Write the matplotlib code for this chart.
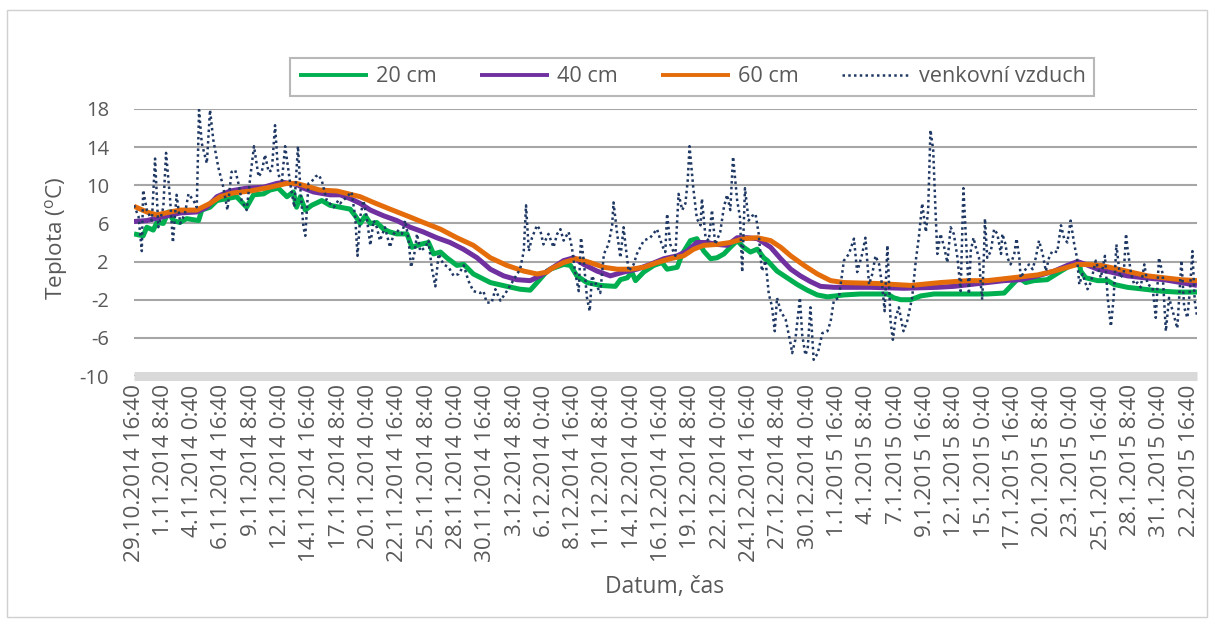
import matplotlib
matplotlib.use("Agg")
from matplotlib import pyplot as plt
from matplotlib.patches import Rectangle

plt.rcParams['font.family'] = ['Open Sans', 'DejaVu Sans']
plt.rcParams['axes.unicode_minus'] = False

# time axis: hours since 29.10.2014 16:40
labels = ["29.10.2014 16:40", "1.11.2014 8:40", "4.11.2014 0:40", "6.11.2014 16:40",
          "9.11.2014 8:40", "12.11.2014 0:40", "14.11.2014 16:40", "17.11.2014 8:40",
          "20.11.2014 0:40", "22.11.2014 16:40", "25.11.2014 8:40", "28.11.2014 0:40",
          "30.11.2014 16:40", "3.12.2014 8:40", "6.12.2014 0:40", "8.12.2014 16:40",
          "11.12.2014 8:40", "14.12.2014 0:40", "16.12.2014 16:40", "19.12.2014 8:40",
          "22.12.2014 0:40", "24.12.2014 16:40", "27.12.2014 8:40", "30.12.2014 0:40",
          "1.1.2015 16:40", "4.1.2015 8:40", "7.1.2015 0:40", "9.1.2015 16:40",
          "12.1.2015 8:40", "15.1.2015 0:40", "17.1.2015 16:40", "20.1.2015 8:40",
          "23.1.2015 0:40", "25.1.2015 16:40", "28.1.2015 8:40", "31.1.2015 0:40",
          "2.2.2015 16:40"]
label_hours = [0, 64, 128, 192, 256, 320, 384, 448, 512, 576, 640, 704, 768, 832,
               896, 960, 1024, 1088, 1152, 1216, 1280, 1344, 1408, 1472, 1536, 1600,
               1664, 1728, 1792, 1856, 1920, 1984, 2048, 2112, 2176, 2240, 2304]

h20 = [0, 20, 28, 42, 50, 64, 75, 86, 100, 115, 141, 148, 166, 181, 203, 224, 246,
       261, 283, 297, 315, 334, 348, 355, 363, 374, 388, 410, 428, 450, 472, 483,
       494, 505, 516, 530, 545, 559, 574, 596, 607, 625, 643, 654, 669, 683, 705,
       720, 741, 778, 814, 843, 865, 880, 902, 909, 938, 953, 967, 989, 1018, 1051,
       1062, 1077, 1087, 1095, 1113, 1135, 1153, 1164, 1186, 1197, 1215, 1229, 1244,
       1259, 1273, 1288, 1302, 1317, 1331, 1346, 1361, 1375, 1383, 1404, 1426, 1448,
       1470, 1492, 1514, 1550, 1586, 1623, 1645, 1659, 1674, 1696, 1718, 1747, 1776,
       1805, 1827, 1863, 1900, 1914, 1932, 1947, 1965, 1994, 2024, 2045, 2064, 2067,
       2078, 2104, 2126, 2140, 2169, 2206, 2242, 2278, 2321]
t20 = [4.9, 4.7, 5.6, 5.3, 6.1, 6.0, 7.2, 6.3, 6.1, 6.5, 6.3, 7.4, 7.7, 8.4, 8.6, 8.8, 7.7,
       9.0, 9.1, 9.5, 9.7, 8.8, 9.3, 7.7, 8.8, 7.4, 7.9, 8.4, 7.9, 7.7, 7.5, 6.8,
       6.0, 6.8, 6.0, 6.1, 5.4, 5.1, 4.9, 4.9, 3.5, 3.8, 4.0, 2.8, 3.0, 2.4, 1.6,
       1.7, 0.7, -0.2, -0.6, -0.9, -1.0, -0.2, 1.0, 1.2, 1.7, 1.6, 0.5, -0.2, -0.5, -0.6,
       0.1, 0.3, 0.9, 0.0, 0.9, 1.6, 1.9, 1.2, 1.4, 2.8, 4.2, 4.4, 3.1,
       2.3, 2.4, 2.8, 3.5, 4.2, 3.5, 3.0, 3.3, 2.4, 2.1, 1.0, 0.3, -0.4,
       -1.0, -1.5, -1.7, -1.5, -1.4, -1.4, -1.4, -1.8, -2.0, -2.0, -1.6, -1.4, -1.4,
       -1.4, -1.4, -1.4, -1.3, -0.6, 0.3, -0.2, 0.0, 0.1, 1.0, 1.6, 1.9, 1.0,
       0.3, 0.0, 0.0, -0.4, -0.7, -0.9, -1.1, -1.2, -1.2]

h40 = [0, 28, 64, 101, 137, 159, 181, 210, 246, 283, 312, 326, 355, 370, 392, 428,
       450, 472, 494, 516, 545, 574, 603, 632, 661, 690, 719, 749, 778, 807, 836,
       865, 887, 909, 938, 960, 982, 1011, 1040, 1069, 1098, 1127, 1157, 1186, 1208,
       1229, 1251, 1273, 1295, 1317, 1339, 1361, 1368, 1390, 1412, 1434, 1455, 1477,
       1499, 1528, 1608, 1681, 1754, 1790, 1827, 1863, 1900, 1936, 1973, 2009, 2038,
       2060, 2078, 2104, 2133, 2169, 2206, 2249, 2286, 2321]
t40 = [6.2, 6.3, 6.7, 7.1, 7.2, 7.7, 8.8, 9.4, 9.7, 9.8, 10.2, 10.3, 10.1, 9.7, 9.3, 9.0,
       9.0, 8.6, 8.1, 7.4, 6.8, 6.3, 5.6, 5.1, 4.5, 4.0, 3.3, 2.4, 1.2, 0.5, 0.1,
       0.0, 0.5, 1.2, 2.1, 2.4, 1.7, 1.0, 0.5, 0.9, 1.2, 1.7, 2.3, 2.6, 3.1,
       4.0, 4.0, 3.8, 3.7, 4.5, 4.5, 4.4, 4.2, 3.5, 2.3, 1.2, 0.5, -0.1,
       -0.6, -0.7, -0.7, -0.8, -0.7, -0.6, -0.4, -0.2, 0.0, 0.1, 0.5, 1.0, 1.6,
       2.0, 1.7, 1.2, 0.9, 0.5, 0.3, 0.1, -0.2, -0.5]

h60 = [0, 28, 50, 79, 101, 137, 166, 188, 217, 254, 297, 334, 355, 377, 406, 443,
       494, 523, 559, 596, 632, 669, 705, 741, 778, 814, 851, 880, 902, 909, 938,
       967, 996, 1026, 1055, 1084, 1113, 1142, 1171, 1200, 1222, 1244, 1273, 1302,
       1331, 1361, 1390, 1412, 1434, 1463, 1492, 1521, 1550, 1623, 1696, 1761, 1820,
       1863, 1900, 1936, 1973, 2009, 2038, 2060, 2082, 2111, 2140, 2176, 2213, 2249,
       2286, 2321]
t60 = [7.8, 7.2, 6.9, 7.2, 7.4, 7.4, 8.1, 8.8, 9.2, 9.4, 9.8, 10.2, 10.2, 9.9, 9.5, 9.4,
       8.8, 8.2, 7.5, 6.8, 6.1, 5.4, 4.5, 3.7, 2.4, 1.6, 1.0, 0.7, 0.9, 1.2, 1.9,
       2.3, 1.9, 1.4, 1.2, 1.2, 1.4, 1.9, 2.3, 2.6, 3.3, 3.7, 3.8, 4.0,
       4.4, 4.5, 4.2, 3.5, 2.6, 1.6, 0.7, 0.0, -0.2, -0.3, -0.5, -0.2, 0.0,
       0.0, 0.2, 0.4, 0.6, 1.0, 1.4, 1.7, 1.7, 1.6, 1.3, 0.9, 0.5, 0.3,
       0.1, 0.0]

h_air = [0, 10, 17, 20, 28, 39, 46, 53, 64, 70, 79, 85, 93, 101, 111, 119, 130, 137,
         142, 148, 159, 166, 173, 184, 195, 204, 213, 221, 228, 235, 246, 254, 262,
         272, 279, 286, 294, 301, 308, 315, 323, 330, 341, 350, 358, 363, 370, 374,
         381, 388, 396, 403, 410, 421, 436, 446, 450, 465, 475, 483, 488, 494, 501,
         508, 516, 523, 530, 537, 548, 559, 567, 574, 585, 592, 599, 605, 612, 618,
         625, 636, 643, 650, 658, 665, 676, 687, 698, 709, 720, 730, 741, 756, 763,
         770, 781, 789, 800, 814, 829, 843, 851, 856, 862, 869, 880, 887, 894, 905,
         916, 924, 931, 938, 949, 956, 964, 971, 976, 982, 989, 995, 1000, 1011, 1018,
         1026, 1036, 1044, 1047, 1055, 1062, 1069, 1073, 1080, 1091, 1098, 1113, 1127,
         1142, 1153, 1160, 1164, 1171, 1182, 1189, 1197, 1204, 1209, 1213, 1221, 1229,
         1237, 1240, 1248, 1255, 1262, 1269, 1280, 1288, 1295, 1302, 1308, 1317, 1323,
         1328, 1334, 1342, 1350, 1357, 1364, 1371, 1379, 1386, 1393, 1399, 1404, 1412,
         1423, 1434, 1437, 1444, 1454, 1459, 1466, 1471, 1477, 1484, 1493, 1503, 1514,
         1521, 1528, 1539, 1550, 1561, 1572, 1579, 1590, 1597, 1605, 1612, 1619, 1627,
         1634, 1639, 1645, 1652, 1657, 1663, 1670, 1680, 1688, 1699, 1707, 1714, 1721,
         1729, 1734, 1739, 1745, 1750, 1754, 1761, 1769, 1776, 1783, 1790, 1798, 1805,
         1811, 1816, 1823, 1827, 1833, 1838, 1845, 1849, 1852, 1856, 1858, 1863, 1871,
         1878, 1885, 1893, 1896, 1903, 1907, 1914, 1922, 1927, 1933, 1936, 1944, 1954,
         1962, 1969, 1976, 1984, 1991, 1998, 2005, 2016, 2024, 2031, 2038, 2045, 2053,
         2059, 2064, 2071, 2082, 2089, 2100, 2111, 2120, 2126, 2133, 2139, 2145, 2153,
         2161, 2166, 2169, 2177, 2184, 2191, 2198, 2206, 2213, 2224, 2231, 2238, 2246,
         2253, 2260, 2268, 2278, 2287, 2293, 2300, 2306, 2311, 2316, 2321]
t_air = [7.9, 6.7, 3.1, 9.5, 7.4, 6.3, 12.8, 5.6, 7.7, 13.4, 8.4, 4.0, 9.0, 6.0, 7.0, 9.1,
         8.4, 7.7, 17.9, 14.4, 12.3, 17.9, 14.8, 11.9, 9.8, 7.4, 11.4, 11.6, 10.2, 8.4,
         7.4, 10.9, 14.1, 10.9, 11.4, 13.2, 11.4, 11.6, 16.3, 11.1, 10.5, 14.1, 10.2,
         7.7, 14.1, 9.8, 5.6, 4.7, 10.2, 10.4, 10.9, 11.1, 10.5, 8.4, 7.7, 8.4, 8.1,
         8.8, 9.3, 6.7, 2.6, 6.7, 8.4, 6.7, 3.7, 6.3, 5.6, 4.2, 5.6, 3.5, 4.9, 5.3,
         4.9, 6.3, 4.5, 1.4, 2.8, 4.9, 3.1, 3.5, 4.2, 1.4, -0.6, 2.8, 1.7, 1.4, 0.5,
         0.7, 1.6, 0.0, -1.1, -1.3, -1.1, -2.3, -2.3, -0.9, -2.1, -1.1, 0.1, 1.2, 3.1,
         7.9, 3.1, 4.5, 5.8, 5.3, 3.8, 4.9, 3.5, 4.9, 5.4, 4.2, 5.1, 3.5, 0.7, -1.1,
         4.5, 2.1, -1.8, -3.2, 0.5, -0.6, -1.3, 2.8, 3.8, 5.8, 8.2, 4.9, 2.4, 5.6, 3.8,
         1.0, 1.7, 2.8, 4.2, 4.5, 5.4, 3.7, 3.0, 7.0, 3.8, 2.6, 9.1, 7.4, 8.1, 10.5,
         14.1, 9.8, 6.5, 5.8, 8.6, 4.5, 4.2, 7.4, 3.8, 5.1, 7.7, 9.0, 7.4, 13.0, 8.4,
         6.7, 0.9, 9.7, 6.3, 6.8, 7.0, 4.9, 1.0, 2.1, -1.4, -2.7, -5.3, -1.8, -3.2,
         -4.1, -6.7, -7.6, -6.2, -1.8, -5.7, -7.8, -7.1, -2.8, -8.3, -7.6, -5.5, -5.3,
         -4.3, -2.1, -1.8, 2.1, 2.8, 4.4, 0.9, 2.8, 4.5, -0.4, 0.7, 2.6, 1.7, -0.7,
         -3.2, 3.7, -4.3, -6.2, -3.9, -2.8, -5.3, -4.3, -1.8, 2.1, 4.7, 8.1, 5.1, 7.4,
         15.8, 13.7, 7.4, 2.8, 4.9, 3.5, 1.9, 5.6, 4.9, 2.4, -1.1, 9.7, 4.9, -1.4, 3.1,
         4.5, 3.5, 2.4, -0.4, -2.0, 3.1, 6.5, 2.4, 3.1, 5.4, 4.9, 2.8, 4.9, 3.8, 2.4,
         1.7, 2.8, 4.4, 2.4, 0.3, 1.0, 1.7, 1.2, 2.4, 4.2, 2.8, 1.0, 2.4, 3.1, 3.0,
         5.8, 4.4, 4.0, 6.3, 3.8, 2.4, -0.4, 0.7, -0.9, -0.2, 2.1, 0.3, 2.6, -1.8,
         -4.8, -1.8, 3.8, 0.3, 0.7, 4.9, 3.5, 0.7, -0.4, -0.2, -0.7, 1.7, -0.4, -0.7,
         -3.9, 2.4, 0.7, -5.3, -1.8, -3.2, -5.0, 2.1, -2.8, -3.9, -0.7, 3.1, -2.1, -3.7]

yticks = [-10, -6, -2, 2, 6, 10, 14, 18]

grey = '#595959'
fig = plt.figure(figsize=(12.15, 6.25), dpi=100)
fig.patches.append(Rectangle((7 / 1215, 1 - 617 / 625), 1200 / 1215, 607 / 625,
                             transform=fig.transFigure, fill=False,
                             edgecolor='#d0d0d0', linewidth=1))

ax = fig.add_axes([134 / 1215, 1 - 376 / 625, 1063 / 1215, 267 / 625])

l1, = ax.plot(h20, t20, color='#00b050', lw=3.6, solid_capstyle='butt')
l2, = ax.plot(h40, t40, color='#7030a0', lw=3.6, solid_capstyle='butt')
l3, = ax.plot(h60, t60, color='#e46c0a', lw=3.6, solid_capstyle='butt')
l4, = ax.plot(h_air, t_air, color='#1f3864', lw=1.8, ls=(0, (1, 1.3)))

ax.set_xlim(0, 2321)
ax.set_ylim(-10, 18)
ax.set_yticks(yticks)
ax.set_xticks(label_hours)
ax.set_xticklabels(labels, rotation=90)
ax.tick_params(axis='both', length=0, labelcolor=grey)
ax.tick_params(axis='y', pad=18, labelsize=14.5)
ax.tick_params(axis='x', pad=6, labelsize=16.2)
ax.grid(axis='y', color='#a6a6a6', lw=1.5)
ax.set_axisbelow(True)
for s in ['left', 'right', 'top']:
    ax.spines[s].set_visible(False)
ax.spines['bottom'].set_color('#d9d9d9')
ax.spines['bottom'].set_linewidth(6.5)
ax.spines['bottom'].set_capstyle('butt')

fig.text(57 / 1215, 1 - 238 / 625, r'Teplota ($\mathregular{^{o}}$C)', rotation=90,
         ha='center', va='center', fontsize=16.2, color=grey)
fig.text(665 / 1215, 1 - 587 / 625, 'Datum, čas', ha='center', va='center',
         fontsize=16.5, color=grey)

leg = fig.legend([l1, l2, l3, l4], ['20 cm', '40 cm', '60 cm', 'venkovní vzduch'],
                 loc='center', bbox_to_anchor=(692 / 1215, 1 - 77 / 625), ncol=4,
                 frameon=True, fancybox=False, fontsize=15.6, handlelength=3.2,
                 handletextpad=0.35, columnspacing=2.0, borderpad=0.4)
leg.get_frame().set_edgecolor('#a6a6a6')
leg.get_frame().set_linewidth(1.5)
for t in leg.get_texts():
    t.set_color(grey)
for h in leg.legend_handles[:3]:
    h.set_linewidth(2.8)

fig.savefig('out.png', dpi=100)
